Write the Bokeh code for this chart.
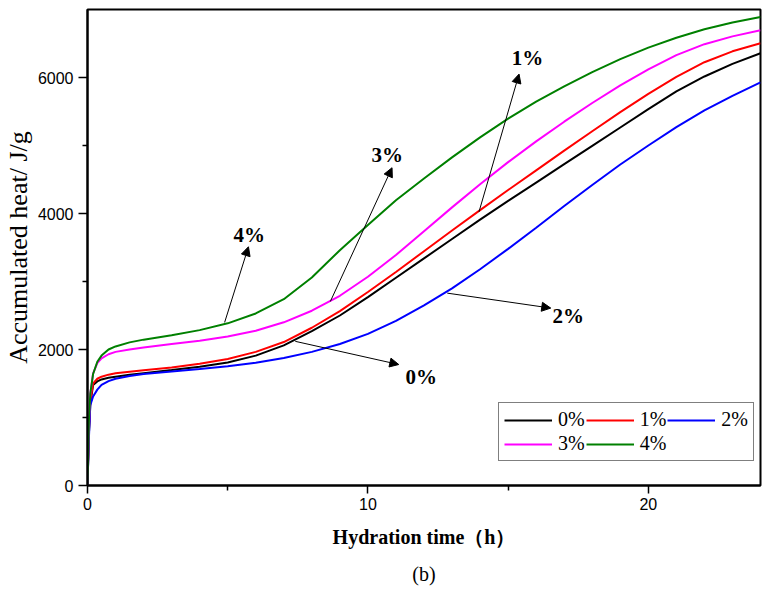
from bokeh.plotting import figure
from bokeh.models import (Range1d, FixedTicker, Legend, LegendItem, Arrow, NormalHead,
                          ColumnDataSource, Title, LabelSet)
from bokeh.embed import file_html
from bokeh.resources import INLINE

# ---- data ----
time_h = [0, 0.05, 0.1, 0.2, 0.35, 0.5, 0.75, 1, 1.5, 2, 3, 4, 5, 6, 7, 8, 9, 10,
          11, 12, 13, 14, 15, 16, 17, 18, 19, 20, 21, 22, 23, 24]
heat_0 = [0, 750, 1200, 1480, 1530, 1560, 1585, 1600, 1628, 1652, 1697, 1745, 1810, 1910,
          2060, 2270, 2500, 2770, 3055, 3340, 3625, 3910, 4185, 4455, 4725, 4995, 5265,
          5535, 5795, 6015, 6200, 6357]
heat_1 = [0, 800, 1250, 1500, 1570, 1600, 1630, 1650, 1673, 1695, 1737, 1790, 1860, 1965,
          2110, 2320, 2565, 2845, 3140, 3445, 3750, 4050, 4345, 4635, 4925, 5210, 5490,
          5760, 6010, 6225, 6385, 6503]
heat_2 = [0, 700, 1180, 1310, 1410, 1480, 1535, 1570, 1610, 1640, 1678, 1714, 1755, 1805,
          1875, 1965, 2080, 2230, 2420, 2650, 2900, 3180, 3480, 3790, 4110, 4420, 4720,
          5000, 5270, 5515, 5730, 5927]
heat_3 = [0, 900, 1350, 1650, 1800, 1870, 1930, 1965, 2000, 2030, 2080, 2130, 2190, 2275,
          2400, 2570, 2790, 3070, 3390, 3740, 4090, 4430, 4755, 5060, 5350, 5625, 5885,
          6120, 6330, 6490, 6605, 6694]
heat_4 = [0, 950, 1350, 1640, 1820, 1910, 2000, 2045, 2105, 2145, 2210, 2285, 2385, 2530,
          2740, 3060, 3460, 3830, 4195, 4515, 4825, 5120, 5395, 5645, 5870, 6080, 6270,
          6440, 6585, 6710, 6810, 6890]
series_names = ["0%", "1%", "2%", "3%", "4%"]
series_values = [heat_0, heat_1, heat_2, heat_3, heat_4]
series_colors = ["#000000", "#ff0000", "#0000ff", "#ff00ff", "#008000"]

x_ticks = [0, 10, 20]
x_minor = [5, 15]
y_ticks = [0, 2000, 4000, 6000]
y_minor = [1000, 3000, 5000]

# annotations: arrow start (on curve), arrow tip, label position
ann_text = ["4%", "3%", "1%", "2%", "0%"]
arrow_x0 = [4.89, 8.66, 13.96, 12.83, 7.41]
arrow_y0 = [2398, 2706, 4023, 2829, 2120]
arrow_x1 = [5.74, 10.86, 15.39, 16.52, 11.10]
arrow_y1 = [3511, 4673, 6050, 2609, 1779]
label_x = [5.77, 10.69, 15.69, 17.14, 11.90]
label_y = [3682, 4854, 6284, 2496, 1600]

# ---- figure ----
p = figure(width=766, height=594, output_backend="svg", toolbar_location=None,
           x_range=Range1d(0, 24), y_range=Range1d(0, 7000),
           min_border_left=87, min_border_right=6, min_border_top=9,
           min_border_bottom=108)
p.background_fill_color = "white"
p.border_fill_color = "white"
p.outline_line_color = "black"
p.outline_line_width = 2
p.xgrid.visible = False
p.ygrid.visible = False

p.xaxis.ticker = FixedTicker(ticks=x_ticks, minor_ticks=x_minor)
p.yaxis.ticker = FixedTicker(ticks=y_ticks, minor_ticks=y_minor)

for ax in (p.xaxis[0], p.yaxis[0]):
    ax.axis_line_width = 2
    ax.axis_line_color = "black"
    ax.major_tick_line_width = 1.5
    ax.minor_tick_line_width = 1.5
    ax.major_tick_line_color = "black"
    ax.minor_tick_line_color = "black"
    ax.major_tick_in = 0
    ax.minor_tick_in = 0
    ax.major_label_text_font = "Liberation Sans"
    ax.major_label_text_font_size = "16px"
    ax.major_label_text_color = "black"
    ax.axis_label_text_color = "black"

p.yaxis.major_tick_out = 9
p.yaxis.minor_tick_out = 5
p.yaxis.major_label_standoff = 5
p.yaxis.axis_label = "Accumulated heat/ J/g"
p.yaxis.axis_label_text_font = "Liberation Serif"
p.yaxis.axis_label_text_font_style = "normal"
p.yaxis.axis_label_text_font_size = "26px"
p.yaxis.axis_label_standoff = 2

p.xaxis.major_tick_out = 8
p.xaxis.minor_tick_out = 5
p.xaxis.major_label_standoff = 4
p.xaxis.axis_label = "Hydration time（h）"
p.xaxis.axis_label_text_font = "Liberation Serif"
p.xaxis.axis_label_text_font_style = "bold"
p.xaxis.axis_label_text_font_size = "20px"
p.xaxis.axis_label_standoff = 13

renderers = []
for name, vals, col in zip(series_names, series_values, series_colors):
    r = p.line(time_h, vals, line_color=col, line_width=2)
    renderers.append(r)

legend = Legend(items=[LegendItem(label=n, renderers=[r]) for n, r in zip(series_names, renderers)],
                location=(411, 24), orientation="horizontal", ncols=3,
                glyph_width=48, glyph_height=20, label_standoff=6, spacing=1,
                padding=5, margin=0,
                label_text_font="Liberation Serif", label_text_font_size="20px",
                label_text_color="black",
                border_line_color="black", border_line_width=1,
                background_fill_color="white", background_fill_alpha=1)
p.add_layout(legend)

asrc = ColumnDataSource(dict(x0=arrow_x0, y0=arrow_y0, x1=arrow_x1, y1=arrow_y1))
p.add_layout(Arrow(x_start="x0", y_start="y0", x_end="x1", y_end="y1", source=asrc,
                   line_color="black", line_width=1,
                   end=NormalHead(size=9, fill_color="black", line_color="black")))

lsrc = ColumnDataSource(dict(x=label_x, y=label_y, t=ann_text))
p.add_layout(LabelSet(x="x", y="y", text="t", source=lsrc, text_align="center",
                      text_baseline="middle", text_font="Liberation Serif",
                      text_font_style="bold", text_font_size="21px", text_color="black"))

p.add_layout(Title(text="(b)", align="center", text_font="Liberation Serif",
                   text_font_style="normal", text_font_size="20px", text_color="black",
                   standoff=20), "below")

open("out.html", "w").write(file_html(p, INLINE))
